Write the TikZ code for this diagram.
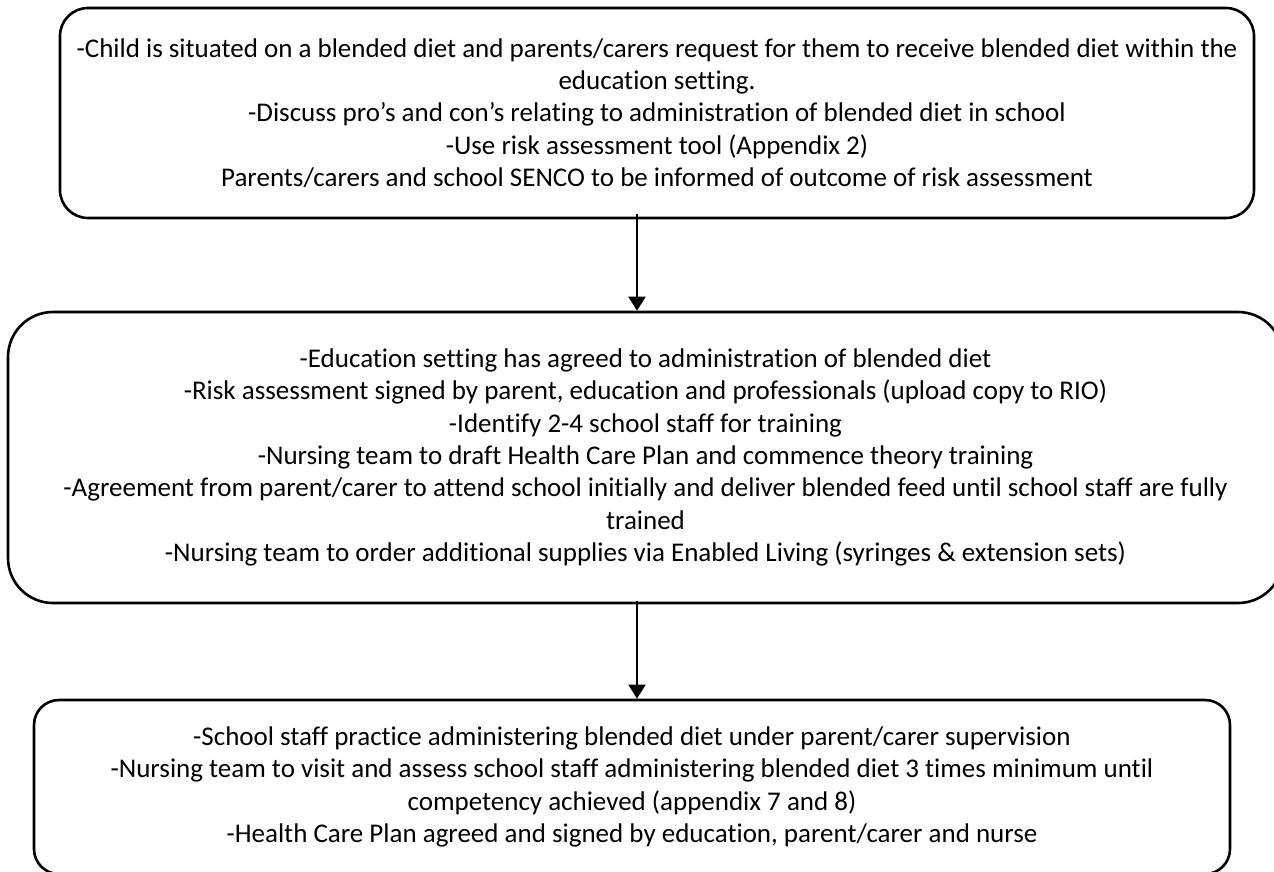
\documentclass[tikz,border=0pt]{standalone}
\usepackage{fontspec}
\setmainfont[Ligatures={NoCommon}]{Carlito}
\usetikzlibrary{arrows.meta}
\tikzset{
  flowbox/.style={draw=black, line width=2.6pt, align=center, inner sep=0pt,
    font=\fontsize{27}{32.3}\selectfont},
  flowarrow/.style={draw=black, line width=2pt, -{Triangle[width=17pt,length=14pt]}}
}
\begin{document}
\begin{tikzpicture}[x=1pt,y=-1pt]
\useasboundingbox (0,0) rectangle (1274,872);
\clip (0,0) rectangle (1274,872);
\fill[white] (0,0) rectangle (1274,872);
\node[flowbox, rounded corners=28pt, minimum width=1194pt, minimum height=210pt] (b1) at (657,113)
 {-Child is situated on a blended diet and parents/carers request for them to receive blended diet within the\\
  education setting.\\
  -Discuss pro’s and con’s relating to administration of blended diet in school\\
  -Use risk assessment tool (Appendix 2)\\
  Parents/carers and school SENCO to be informed of outcome of risk assessment};
\node[flowbox, rounded corners=45pt, minimum width=1275pt, minimum height=291pt] (b2) at (645.5,457.5)
 {-Education setting has agreed to administration of blended diet\\
  -Risk assessment signed by parent, education and professionals (upload copy to RIO)\\
  -Identify 2-4 school staff for training\\
  -Nursing team to draft Health Care Plan and commence theory training\\
  -Agreement from parent/carer to attend school initially and deliver blended feed until school staff are fully\\
  trained\\
  -Nursing team to order additional supplies via Enabled Living (syringes \& extension sets)};
\node[flowbox, rounded corners=25pt, minimum width=1196pt, minimum height=174pt] (b3) at (632,787)
 {-School staff practice administering blended diet under parent/carer supervision\\
  -Nursing team to visit and assess school staff administering blended diet 3 times minimum until\\
  competency achieved (appendix 7 and 8)\\
  -Health Care Plan agreed and signed by education, parent/carer and nurse};
\coordinate (ax) at (637,0);
\draw[flowarrow] ([yshift=5pt]b1.south -| ax) -- (b2.north -| ax);
\draw[flowarrow] ([yshift=3pt]b2.south -| ax) -- (b3.north -| ax);
\end{tikzpicture}
\end{document}
